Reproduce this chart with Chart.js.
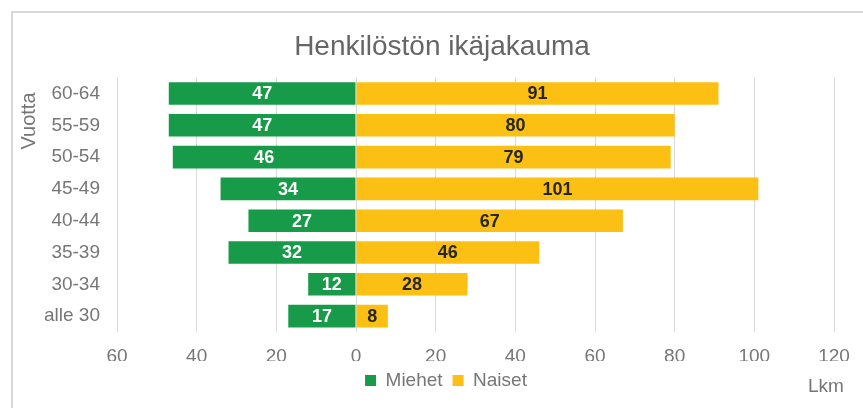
<!DOCTYPE html>
<html>
<head>
<meta charset="utf-8">
<script src="https://cdn.jsdelivr.net/npm/chart.js@4/dist/chart.umd.min.js"></script>
<style>
  html, body { margin: 0; padding: 0; background: #fff; overflow: hidden; }
  #wrap { position: relative; width: 863px; height: 408px; }
  #frame { position: absolute; left: 11px; top: 11px; width: 900px; height: 450px; border: 1px solid #d9d9d9; border-width: 2px 0 0 2px; }
  canvas { position: absolute; left: 0; top: 0; }
</style>
</head>
<body>
<div id="wrap">
  <div id="frame"></div>
  <canvas id="ageChart" width="863" height="408"></canvas>
</div>
<script>
"use strict";

const AGE_GROUPS = ["60-64", "55-59", "50-54", "45-49", "40-44", "35-39", "30-34", "alle 30"];
const MEN        = [47, 47, 46, 34, 27, 32, 12, 17];
const WOMEN      = [91, 80, 79, 101, 67, 46, 28, 8];
const X_MIN = -60;
const X_MAX = 120;
const X_STEP = 20;

const FONT = "'Liberation Sans', Arial, sans-serif";
const GREEN  = "#179b48";
const YELLOW = "#fcc015";
const GRAY   = "#767676";

// title and legend sit centred on the original (wider) chart, not on the canvas
const nudgeBlocks = {
  id: "nudgeBlocks",
  afterLayout(chart) {
    if (chart.titleBlock) {
      chart.titleBlock.left += 25;
      chart.titleBlock.right += 25;
    }
    if (chart.legend) {
      chart.legend.left += 29;
      chart.legend.right += 29;
    }
  },
};

// draws the numbers inside the bars plus the two loose axis captions
const barLabels = {
  id: "barLabels",
  afterDatasetsDraw(chart) {
    const ctx = chart.ctx;
    ctx.save();
    ctx.font = "bold 18px " + FONT;
    ctx.textAlign = "center";
    ctx.textBaseline = "middle";
    chart.data.datasets.forEach((ds, di) => {
      const meta = chart.getDatasetMeta(di);
      meta.data.forEach((bar, i) => {
        const cx = (bar.x + bar.base) / 2;
        ctx.fillStyle = di === 0 ? "#ffffff" : "#262626";
        ctx.fillText(String(Math.abs(ds.data[i])), cx, bar.y + 1);
      });
    });

    ctx.font = "19px " + FONT;
    ctx.fillStyle = GRAY;
    ctx.fillText("Lkm", 826, 387);

    ctx.translate(29, 121);
    ctx.rotate(-Math.PI / 2);
    ctx.font = "20px " + FONT;
    ctx.fillText("Vuotta", 0, 0);
    ctx.restore();
  },
};

new Chart(document.getElementById("ageChart"), {
  type: "bar",
  data: {
    labels: AGE_GROUPS,
    datasets: [
      {
        label: "Miehet",
        data: MEN.map((v) => -v),
        backgroundColor: GREEN,
        barPercentage: 0.71,
        categoryPercentage: 1,
      },
      {
        label: "Naiset",
        data: WOMEN,
        backgroundColor: YELLOW,
        barPercentage: 0.71,
        categoryPercentage: 1,
      },
    ],
  },
  options: {
    indexAxis: "y",
    responsive: false,
    animation: false,
    layout: { padding: { left: 0, right: 29, top: 0, bottom: 8 } },
    plugins: {
      title: {
        display: true,
        text: "Henkilöstön ikäjakauma",
        color: "#666666",
        font: { family: FONT, size: 28, weight: "normal" },
        padding: { top: 30, bottom: 14 },
      },
      legend: {
        position: "bottom",
        labels: {
          color: GRAY,
          font: { family: FONT, size: 19 },
          boxWidth: 11,
          boxHeight: 11,
          padding: 10,
        },
      },
      tooltip: { enabled: false },
    },
    scales: {
      x: {
        stacked: true,
        min: X_MIN,
        max: X_MAX,
        afterFit: (s) => { s.height = 29; },
        grid: { color: "#d9d9d9", drawTicks: false },
        border: { display: false },
        ticks: {
          stepSize: X_STEP,
          color: GRAY,
          font: { family: FONT, size: 19 },
          padding: 13,
          callback: (v) => Math.abs(v),
        },
      },
      y: {
        stacked: true,
        afterFit: (s) => { s.width = 117; },
        grid: { display: false, drawTicks: false },
        border: { display: false },
        ticks: {
          color: GRAY,
          font: { family: FONT, size: 19 },
          padding: 17,
        },
      },
    },
  },
  plugins: [nudgeBlocks, barLabels],
});
</script>
</body>
</html>
